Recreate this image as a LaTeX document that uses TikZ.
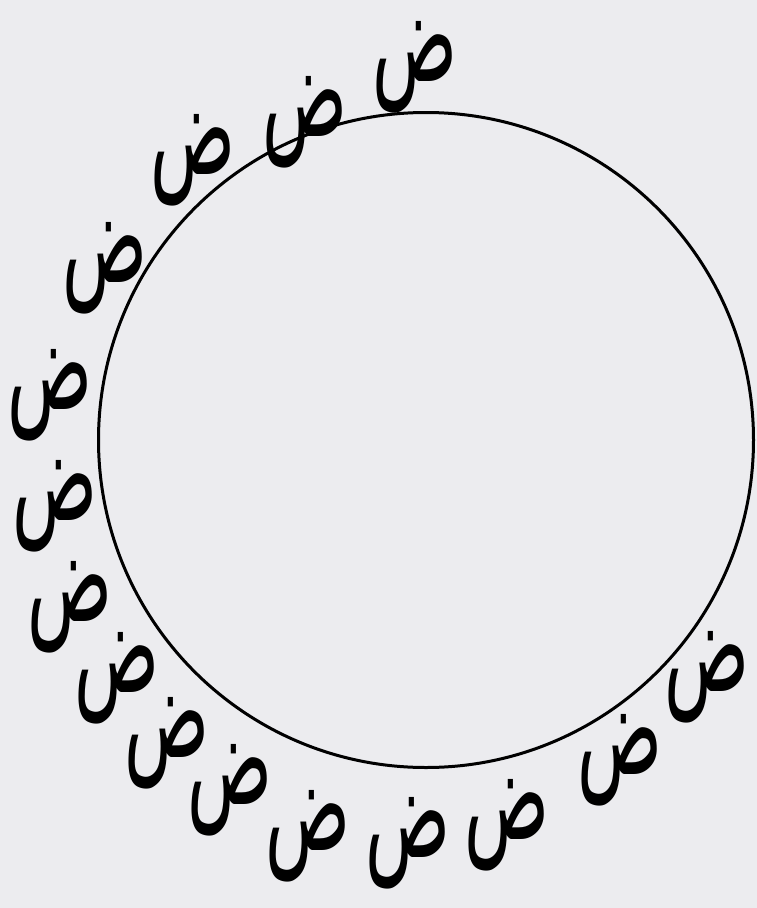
\documentclass[tikz,border=0pt]{standalone}
\usepackage{fontspec}
\newfontfamily\arabicfont[Script=Arabic]{DejaVu Sans}
\TeXXeTstate=1
\definecolor{bg}{RGB}{236,236,239}
\newcommand{\dad}{\scalebox{0.95}[1.75]{\beginR ض\endR}}
\begin{document}
\begin{tikzpicture}[x=1pt,y=-1pt,
  letter/.style={font=\arabicfont\fontsize{74}{74}\selectfont, inner sep=0pt, text=black},
  ring/.style={draw=black, circle, line width=3pt, inner sep=0pt, minimum size=655pt}]
\fill[bg] (0,0) rectangle (757,908);
\useasboundingbox (0,0) rectangle (757,908);
\node[ring] (c) at (426,440) {};
\node[letter] (l1) at (415,67) {\dad};
\node[letter] (l2) at (305,122) {\dad};
\node[letter] (l3) at (193,160) {\dad};
\node[letter] (l4) at (105,268) {\dad};
\node[letter] (l5) at (50,395) {\dad};
\node[letter] (l6) at (55,506) {\dad};
\node[letter] (l7) at (70,607) {\dad};
\node[letter] (l8) at (117,678) {\dad};
\node[letter] (l9) at (167,743) {\dad};
\node[letter] (l10) at (230,790) {\dad};
\node[letter] (l11) at (308,836) {\dad};
\node[letter] (l12) at (408,843) {\dad};
\node[letter] (l13) at (507,825) {\dad};
\node[letter] (l14) at (620,760) {\dad};
\node[letter] (l15) at (707,677) {\dad};
\end{tikzpicture}
\end{document}
